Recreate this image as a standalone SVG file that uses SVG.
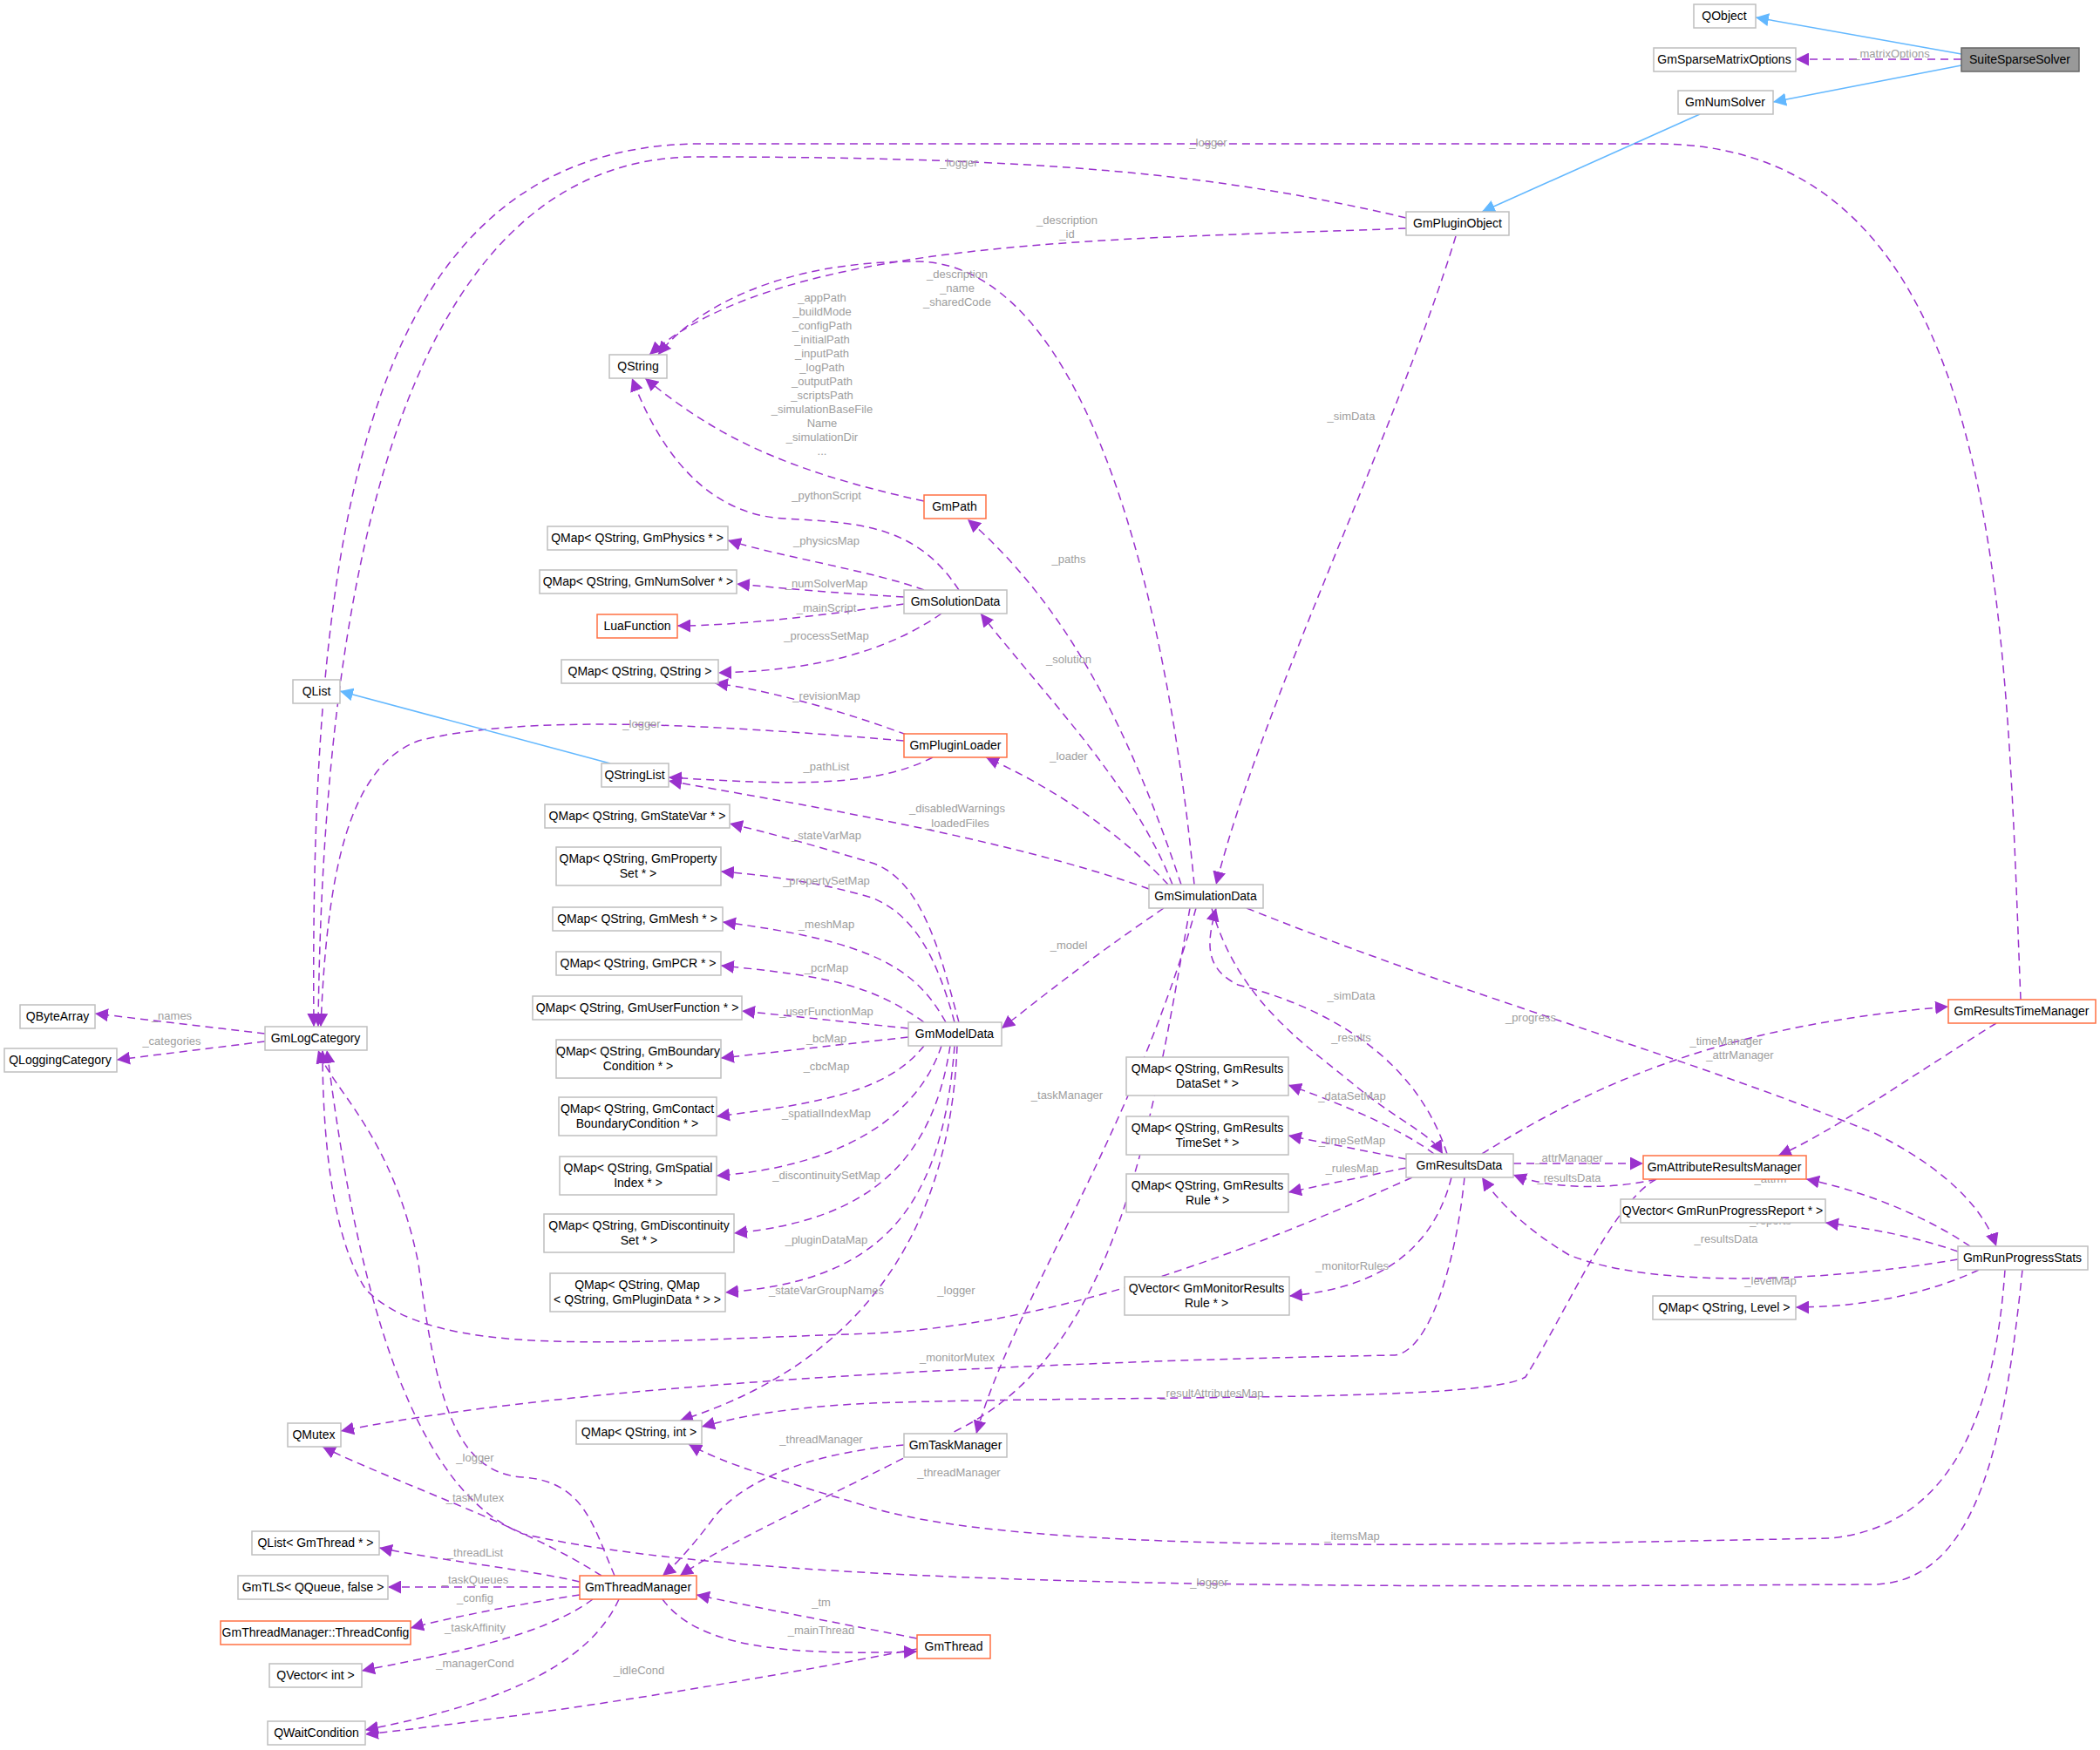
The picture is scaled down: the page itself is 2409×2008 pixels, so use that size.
<svg xmlns="http://www.w3.org/2000/svg" width="2409" height="2008" viewBox="0 0 2409 2008">
<style>
.n rect{fill:#fff;stroke:#bfbfbf;stroke-width:1.5}
.o rect{stroke:#ff7043}
.n text{font-family:"Liberation Sans",Arial,sans-serif;font-size:14px;fill:#000;text-anchor:middle}
.e path{fill:none;stroke:#9a32cd;stroke-width:1.5;stroke-dasharray:9,6;marker-end:url(#a)}
.e path.b{stroke:#63b8ff;stroke-dasharray:none;marker-end:url(#b)}
.l text{font-family:"Liberation Sans",Arial,sans-serif;font-size:13px;fill:#9e9e9e;text-anchor:middle}
</style>
<defs>
<marker id="a" viewBox="0 0 10 10" refX="10" refY="5" markerWidth="15" markerHeight="15" markerUnits="userSpaceOnUse" orient="auto"><path d="M0,0 L10,5 L0,10z" fill="#9a32cd"/></marker>
<marker id="b" viewBox="0 0 10 10" refX="10" refY="5" markerWidth="15" markerHeight="15" markerUnits="userSpaceOnUse" orient="auto"><path d="M0,0 L10,5 L0,10z" fill="#63b8ff"/></marker>
</defs>
<rect width="2409" height="2008" fill="#fff"/>
<g id="connectors" class="e">
<path class="b" d="M2250,62 L2014,20"/>
<path d="M2250,68 L2060,68"/>
<path class="b" d="M2250,75 L2034,117"/>
<path class="b" d="M1950,131 L1700,243"/>
<path d="M1613,250 C1400,200 1200,180 800,180 C450,180 370,700 365,1178"/>
<path d="M2318,1147 C2300,700 2300,165 1900,165 L800,165 C420,170 355,600 360,1178"/>
<path d="M1613,262 C1300,275 900,270 745,407"/>
<path d="M1670,271 C1600,500 1450,800 1395,1015"/>
<path d="M1370,1015 C1340,700 1250,300 1050,300 C900,300 800,350 755,407"/>
<path d="M1060,575 C900,540 820,500 740,434"/>
<path d="M1100,677 C1050,600 980,600 900,595 C800,590 750,500 725,434"/>
<path d="M1060,677 C1000,655 900,640 835,620"/>
<path d="M1037,685 C950,680 900,675 845,670"/>
<path d="M1037,693 C950,705 850,718 777,718"/>
<path d="M1080,704 C1000,760 900,770 824,772"/>
<path d="M1040,843 C950,810 870,790 820,784"/>
<path d="M1037,850 C800,830 600,820 480,850 C400,880 375,1000 368,1178"/>
<path d="M1070,869 C1000,905 900,900 767,892"/>
<path class="b" d="M700,876 L390,793"/>
<path d="M1318,1020 C1150,960 900,920 767,896"/>
<path d="M1340,1015 C1280,950 1200,900 1131,869"/>
<path d="M1345,1015 C1300,900 1200,800 1125,704"/>
<path d="M1355,1015 C1300,850 1230,700 1110,596"/>
<path d="M1335,1042 C1250,1100 1200,1140 1149,1180"/>
<path d="M1100,1173 C1080,1100 1060,1010 1000,990 C950,975 900,960 837,945"/>
<path d="M1095,1173 C1075,1100 1050,1050 1000,1030 C950,1015 890,1005 827,1000"/>
<path d="M1085,1173 C1050,1110 1000,1080 829,1058"/>
<path d="M1060,1173 C1000,1130 950,1120 827,1108"/>
<path d="M1042,1180 L851,1160"/>
<path d="M1042,1190 L827,1214"/>
<path d="M1060,1200 C1020,1250 950,1265 822,1281"/>
<path d="M1080,1200 C1050,1290 950,1340 822,1349"/>
<path d="M1090,1200 C1070,1330 1000,1400 842,1415"/>
<path d="M1095,1200 C1080,1400 1000,1470 832,1483"/>
<path d="M1098,1200 C1090,1400 1000,1560 780,1630"/>
<path d="M1372,1042 C1300,1300 1160,1500 1120,1645"/>
<path d="M1365,1042 C1320,1300 1280,1550 1100,1640 C950,1720 850,1760 780,1808"/>
<path d="M1660,1324 C1620,1200 1500,1150 1420,1130 C1380,1110 1385,1080 1395,1042"/>
<path d="M1390,1042 C1420,1150 1500,1200 1560,1250 C1610,1290 1640,1300 1655,1324"/>
<path d="M1430,1042 C1700,1150 1900,1200 2150,1300 C2250,1350 2280,1400 2290,1430"/>
<path d="M1645,1324 C1600,1290 1520,1260 1478,1245"/>
<path d="M1613,1330 L1478,1303"/>
<path d="M1613,1340 L1478,1368"/>
<path d="M1665,1351 C1640,1450 1560,1480 1479,1487"/>
<path d="M1700,1324 C1850,1230 2000,1175 2235,1155"/>
<path d="M1736,1335 L1885,1335"/>
<path d="M1900,1353 C1850,1365 1780,1365 1736,1348"/>
<path d="M2290,1174 C2200,1230 2100,1300 2040,1326"/>
<path d="M2260,1430 C2200,1390 2130,1365 2072,1353"/>
<path d="M2246,1436 C2200,1420 2150,1410 2094,1403"/>
<path d="M2246,1445 C2100,1470 1900,1480 1800,1440 C1750,1410 1720,1380 1700,1351"/>
<path d="M2270,1457 C2200,1490 2120,1500 2060,1500"/>
<path d="M1620,1351 C1400,1450 1200,1520 1000,1530 C700,1540 500,1560 420,1480 C380,1420 370,1300 370,1205"/>
<path d="M1680,1351 C1670,1450 1640,1550 1600,1555 C1300,1560 700,1580 391,1642"/>
<path d="M1900,1353 C1850,1380 1800,1500 1750,1580 C1700,1610 1300,1600 1000,1610 C900,1615 850,1625 805,1637"/>
<path d="M2300,1457 C2290,1600 2250,1750 2100,1765 C1800,1770 1200,1790 1000,1730 C900,1700 830,1680 790,1657"/>
<path d="M2320,1457 C2300,1650 2270,1815 2150,1818 C1700,1820 900,1830 600,1760 C450,1700 400,1400 375,1205"/>
<path d="M1037,1658 C950,1665 860,1690 820,1740 C790,1780 770,1800 760,1808"/>
<path d="M705,1808 C680,1750 670,1700 600,1695 C520,1690 500,1600 480,1450 C450,1300 380,1250 365,1205"/>
<path d="M690,1808 C600,1750 450,1700 370,1660"/>
<path d="M665,1815 C600,1800 500,1790 435,1776"/>
<path d="M665,1821 L445,1821"/>
<path d="M665,1830 C600,1840 520,1855 471,1868"/>
<path d="M680,1835 C620,1880 500,1900 415,1917"/>
<path d="M710,1835 C680,1900 600,1950 419,1985"/>
<path d="M1052,1880 C950,1860 870,1845 799,1830"/>
<path d="M760,1835 C800,1890 900,1900 1052,1895"/>
<path d="M1052,1892 C800,1940 600,1970 419,1990"/>
<path d="M304,1186 L109,1163"/>
<path d="M304,1195 L134,1216"/>
</g>
<g id="labels" class="l">
<text x="2170" y="66">_matrixOptions</text>
<text x="1100" y="191">_logger</text>
<text x="1386" y="168">_logger</text>
<text x="1224" y="257">_description</text><text x="1224" y="273">_id</text>
<text x="1550" y="482">_simData</text>
<text x="1098" y="319">_description</text><text x="1098" y="335">_name</text><text x="1098" y="351">_sharedCode</text>
<text x="943" y="346">_appPath</text><text x="943" y="362">_buildMode</text><text x="943" y="378">_configPath</text><text x="943" y="394">_initialPath</text><text x="943" y="410">_inputPath</text><text x="943" y="426">_logPath</text><text x="943" y="442">_outputPath</text><text x="943" y="458">_scriptsPath</text><text x="943" y="474">_simulationBaseFile</text><text x="943" y="490">Name</text><text x="943" y="506">_simulationDir</text><text x="943" y="522">...</text>
<text x="948" y="573">_pythonScript</text>
<text x="948" y="625">_physicsMap</text>
<text x="948" y="674">_numSolverMap</text>
<text x="948" y="702">_mainScript</text>
<text x="948" y="734">_processSetMap</text>
<text x="948" y="803">_revisionMap</text>
<text x="736" y="835">_logger</text>
<text x="948" y="884">_pathList</text>
<text x="1098" y="932">_disabledWarnings</text><text x="1098" y="949">_loadedFiles</text>
<text x="1226" y="872">_loader</text>
<text x="1226" y="761">_solution</text>
<text x="1226" y="646">_paths</text>
<text x="1226" y="1089">_model</text>
<text x="948" y="963">_stateVarMap</text>
<text x="948" y="1015">_propertySetMap</text>
<text x="948" y="1065">_meshMap</text>
<text x="948" y="1115">_pcrMap</text>
<text x="948" y="1165">_userFunctionMap</text>
<text x="948" y="1196">_bcMap</text>
<text x="948" y="1228">_cbcMap</text>
<text x="948" y="1282">_spatialIndexMap</text>
<text x="948" y="1353">_discontinuitySetMap</text>
<text x="948" y="1427">_pluginDataMap</text>
<text x="948" y="1485">_stateVarGroupNames</text>
<text x="1224" y="1261">_taskManager</text>
<text x="1100" y="1694">_threadManager</text>
<text x="1550" y="1147">_simData</text>
<text x="1550" y="1195">_results</text>
<text x="1756" y="1172">_progress</text>
<text x="1551" y="1262">_dataSetMap</text>
<text x="1551" y="1313">_timeSetMap</text>
<text x="1551" y="1345">_rulesMap</text>
<text x="1551" y="1457">_monitorRules</text>
<text x="1980" y="1199">_timeManager</text>
<text x="1800" y="1333">_attrManager</text>
<text x="1800" y="1356">_resultsData</text>
<text x="1996" y="1215">_attrManager</text>
<text x="2031" y="1357">_attrm</text>
<text x="2031" y="1405">_reports</text>
<text x="1980" y="1426">_resultsData</text>
<text x="2031" y="1474">_levelMap</text>
<text x="1097" y="1485">_logger</text>
<text x="1098" y="1562">_monitorMutex</text>
<text x="1390" y="1603">_resultAttributesMap</text>
<text x="1551" y="1767">_itemsMap</text>
<text x="1387" y="1820">_logger</text>
<text x="942" y="1656">_threadManager</text>
<text x="545" y="1677">_logger</text>
<text x="545" y="1723">_taskMutex</text>
<text x="545" y="1786">_threadList</text>
<text x="545" y="1817">_taskQueues</text>
<text x="545" y="1838">_config</text>
<text x="545" y="1872">_taskAffinity</text>
<text x="545" y="1913">_managerCond</text>
<text x="942" y="1843">_tm</text>
<text x="942" y="1875">_mainThread</text>
<text x="733" y="1921">_idleCond</text>
<text x="197" y="1170">_names</text>
<text x="197" y="1199">_categories</text>
</g>
<g id="QObject" class="n"><rect x="1943" y="5" width="71" height="27"/><text x="1978" y="23">QObject</text></g>
<g id="GmSparseMatrixOptions" class="n"><rect x="1897" y="55" width="163" height="27"/><text x="1978" y="73">GmSparseMatrixOptions</text></g>
<g id="SuiteSparseSolver" class="n"><rect x="2250" y="55" width="135" height="27" style="fill:#999;stroke:#666"/><text x="2317" y="73">SuiteSparseSolver</text></g>
<g id="GmNumSolver" class="n"><rect x="1925" y="104" width="109" height="27"/><text x="1979" y="122">GmNumSolver</text></g>
<g id="GmPluginObject" class="n"><rect x="1613" y="243" width="118" height="27"/><text x="1672" y="261">GmPluginObject</text></g>
<g id="QString" class="n"><rect x="699" y="407" width="66" height="27"/><text x="732" y="425">QString</text></g>
<g id="GmPath" class="n o"><rect x="1060" y="568" width="71" height="27"/><text x="1095" y="586">GmPath</text></g>
<g id="QMapPhysics" class="n"><rect x="628" y="604" width="207" height="27"/><text x="731" y="622">QMap&lt; QString, GmPhysics * &gt;</text></g>
<g id="QMapNumSolver" class="n"><rect x="619" y="654" width="226" height="27"/><text x="732" y="672">QMap&lt; QString, GmNumSolver * &gt;</text></g>
<g id="LuaFunction" class="n o"><rect x="685" y="705" width="92" height="27"/><text x="731" y="723">LuaFunction</text></g>
<g id="QMapQString" class="n"><rect x="644" y="757" width="180" height="27"/><text x="734" y="775">QMap&lt; QString, QString &gt;</text></g>
<g id="GmSolutionData" class="n"><rect x="1037" y="677" width="118" height="27"/><text x="1096" y="695">GmSolutionData</text></g>
<g id="QList" class="n"><rect x="336" y="780" width="54" height="27"/><text x="363" y="798">QList</text></g>
<g id="GmPluginLoader" class="n o"><rect x="1037" y="842" width="118" height="27"/><text x="1096" y="860">GmPluginLoader</text></g>
<g id="QStringList" class="n"><rect x="690" y="876" width="77" height="27"/><text x="728" y="894">QStringList</text></g>
<g id="QMapStateVar" class="n"><rect x="625" y="923" width="212" height="27"/><text x="731" y="941">QMap&lt; QString, GmStateVar * &gt;</text></g>
<g id="QMapProperty" class="n"><rect x="638" y="972" width="189" height="44"/><text x="732" y="990">QMap&lt; QString, GmProperty</text><text x="732" y="1007">Set * &gt;</text></g>
<g id="QMapMesh" class="n"><rect x="634" y="1041" width="195" height="27"/><text x="731" y="1059">QMap&lt; QString, GmMesh * &gt;</text></g>
<g id="QMapPCR" class="n"><rect x="638" y="1092" width="189" height="27"/><text x="732" y="1110">QMap&lt; QString, GmPCR * &gt;</text></g>
<g id="QMapUserFunction" class="n"><rect x="611" y="1143" width="240" height="27"/><text x="731" y="1161">QMap&lt; QString, GmUserFunction * &gt;</text></g>
<g id="QMapBoundary" class="n"><rect x="638" y="1193" width="189" height="44"/><text x="732" y="1211">QMap&lt; QString, GmBoundary</text><text x="732" y="1228">Condition * &gt;</text></g>
<g id="QMapContact" class="n"><rect x="641" y="1259" width="181" height="44"/><text x="731" y="1277">QMap&lt; QString, GmContact</text><text x="731" y="1294">BoundaryCondition * &gt;</text></g>
<g id="QMapSpatial" class="n"><rect x="642" y="1327" width="180" height="44"/><text x="732" y="1345">QMap&lt; QString, GmSpatial</text><text x="732" y="1362">Index * &gt;</text></g>
<g id="QMapDiscontinuity" class="n"><rect x="624" y="1393" width="218" height="44"/><text x="733" y="1411">QMap&lt; QString, GmDiscontinuity</text><text x="733" y="1428">Set * &gt;</text></g>
<g id="QMapPluginData" class="n"><rect x="631" y="1461" width="201" height="44"/><text x="731" y="1479">QMap&lt; QString, QMap</text><text x="731" y="1496">&lt; QString, GmPluginData * &gt; &gt;</text></g>
<g id="GmModelData" class="n"><rect x="1042" y="1173" width="107" height="27"/><text x="1095" y="1191">GmModelData</text></g>
<g id="GmSimulationData" class="n"><rect x="1318" y="1015" width="131" height="27"/><text x="1383" y="1033">GmSimulationData</text></g>
<g id="QByteArray" class="n"><rect x="23" y="1153" width="86" height="27"/><text x="66" y="1171">QByteArray</text></g>
<g id="QLoggingCategory" class="n"><rect x="5" y="1203" width="129" height="27"/><text x="69" y="1221">QLoggingCategory</text></g>
<g id="GmLogCategory" class="n"><rect x="304" y="1178" width="117" height="27"/><text x="362" y="1196">GmLogCategory</text></g>
<g id="GmResultsTimeManager" class="n o"><rect x="2235" y="1147" width="169" height="27"/><text x="2319" y="1165">GmResultsTimeManager</text></g>
<g id="QMapResultsDataSet" class="n"><rect x="1292" y="1213" width="186" height="44"/><text x="1385" y="1231">QMap&lt; QString, GmResults</text><text x="1385" y="1248">DataSet * &gt;</text></g>
<g id="QMapResultsTimeSet" class="n"><rect x="1292" y="1281" width="186" height="44"/><text x="1385" y="1299">QMap&lt; QString, GmResults</text><text x="1385" y="1316">TimeSet * &gt;</text></g>
<g id="QMapResultsRule" class="n"><rect x="1292" y="1347" width="186" height="44"/><text x="1385" y="1365">QMap&lt; QString, GmResults</text><text x="1385" y="1382">Rule * &gt;</text></g>
<g id="GmResultsData" class="n"><rect x="1613" y="1324" width="123" height="27"/><text x="1674" y="1342">GmResultsData</text></g>
<g id="GmAttributeResultsManager" class="n o"><rect x="1885" y="1326" width="187" height="27"/><text x="1978" y="1344">GmAttributeResultsManager</text></g>
<g id="QVectorReport" class="n"><rect x="1859" y="1376" width="235" height="27"/><text x="1976" y="1394">QVector&lt; GmRunProgressReport * &gt;</text></g>
<g id="GmRunProgressStats" class="n"><rect x="2246" y="1430" width="149" height="27"/><text x="2320" y="1448">GmRunProgressStats</text></g>
<g id="QVectorMonitor" class="n"><rect x="1290" y="1465" width="189" height="44"/><text x="1384" y="1483">QVector&lt; GmMonitorResults</text><text x="1384" y="1500">Rule * &gt;</text></g>
<g id="QMapLevel" class="n"><rect x="1896" y="1487" width="164" height="27"/><text x="1978" y="1505">QMap&lt; QString, Level &gt;</text></g>
<g id="QMutex" class="n"><rect x="330" y="1633" width="61" height="27"/><text x="360" y="1651">QMutex</text></g>
<g id="QMapInt" class="n"><rect x="661" y="1630" width="144" height="27"/><text x="733" y="1648">QMap&lt; QString, int &gt;</text></g>
<g id="GmTaskManager" class="n"><rect x="1037" y="1645" width="118" height="27"/><text x="1096" y="1663">GmTaskManager</text></g>
<g id="QListThread" class="n"><rect x="289" y="1757" width="146" height="27"/><text x="362" y="1775">QList&lt; GmThread * &gt;</text></g>
<g id="GmTLS" class="n"><rect x="273" y="1808" width="172" height="27"/><text x="359" y="1826">GmTLS&lt; QQueue, false &gt;</text></g>
<g id="GmThreadManager" class="n o"><rect x="665" y="1808" width="134" height="27"/><text x="732" y="1826">GmThreadManager</text></g>
<g id="ThreadConfig" class="n o"><rect x="253" y="1860" width="218" height="27"/><text x="362" y="1878">GmThreadManager::ThreadConfig</text></g>
<g id="QVectorInt" class="n"><rect x="309" y="1909" width="106" height="27"/><text x="362" y="1927">QVector&lt; int &gt;</text></g>
<g id="GmThread" class="n o"><rect x="1052" y="1876" width="84" height="27"/><text x="1094" y="1894">GmThread</text></g>
<g id="QWaitCondition" class="n"><rect x="307" y="1975" width="112" height="27"/><text x="363" y="1993">QWaitCondition</text></g>
</svg>
